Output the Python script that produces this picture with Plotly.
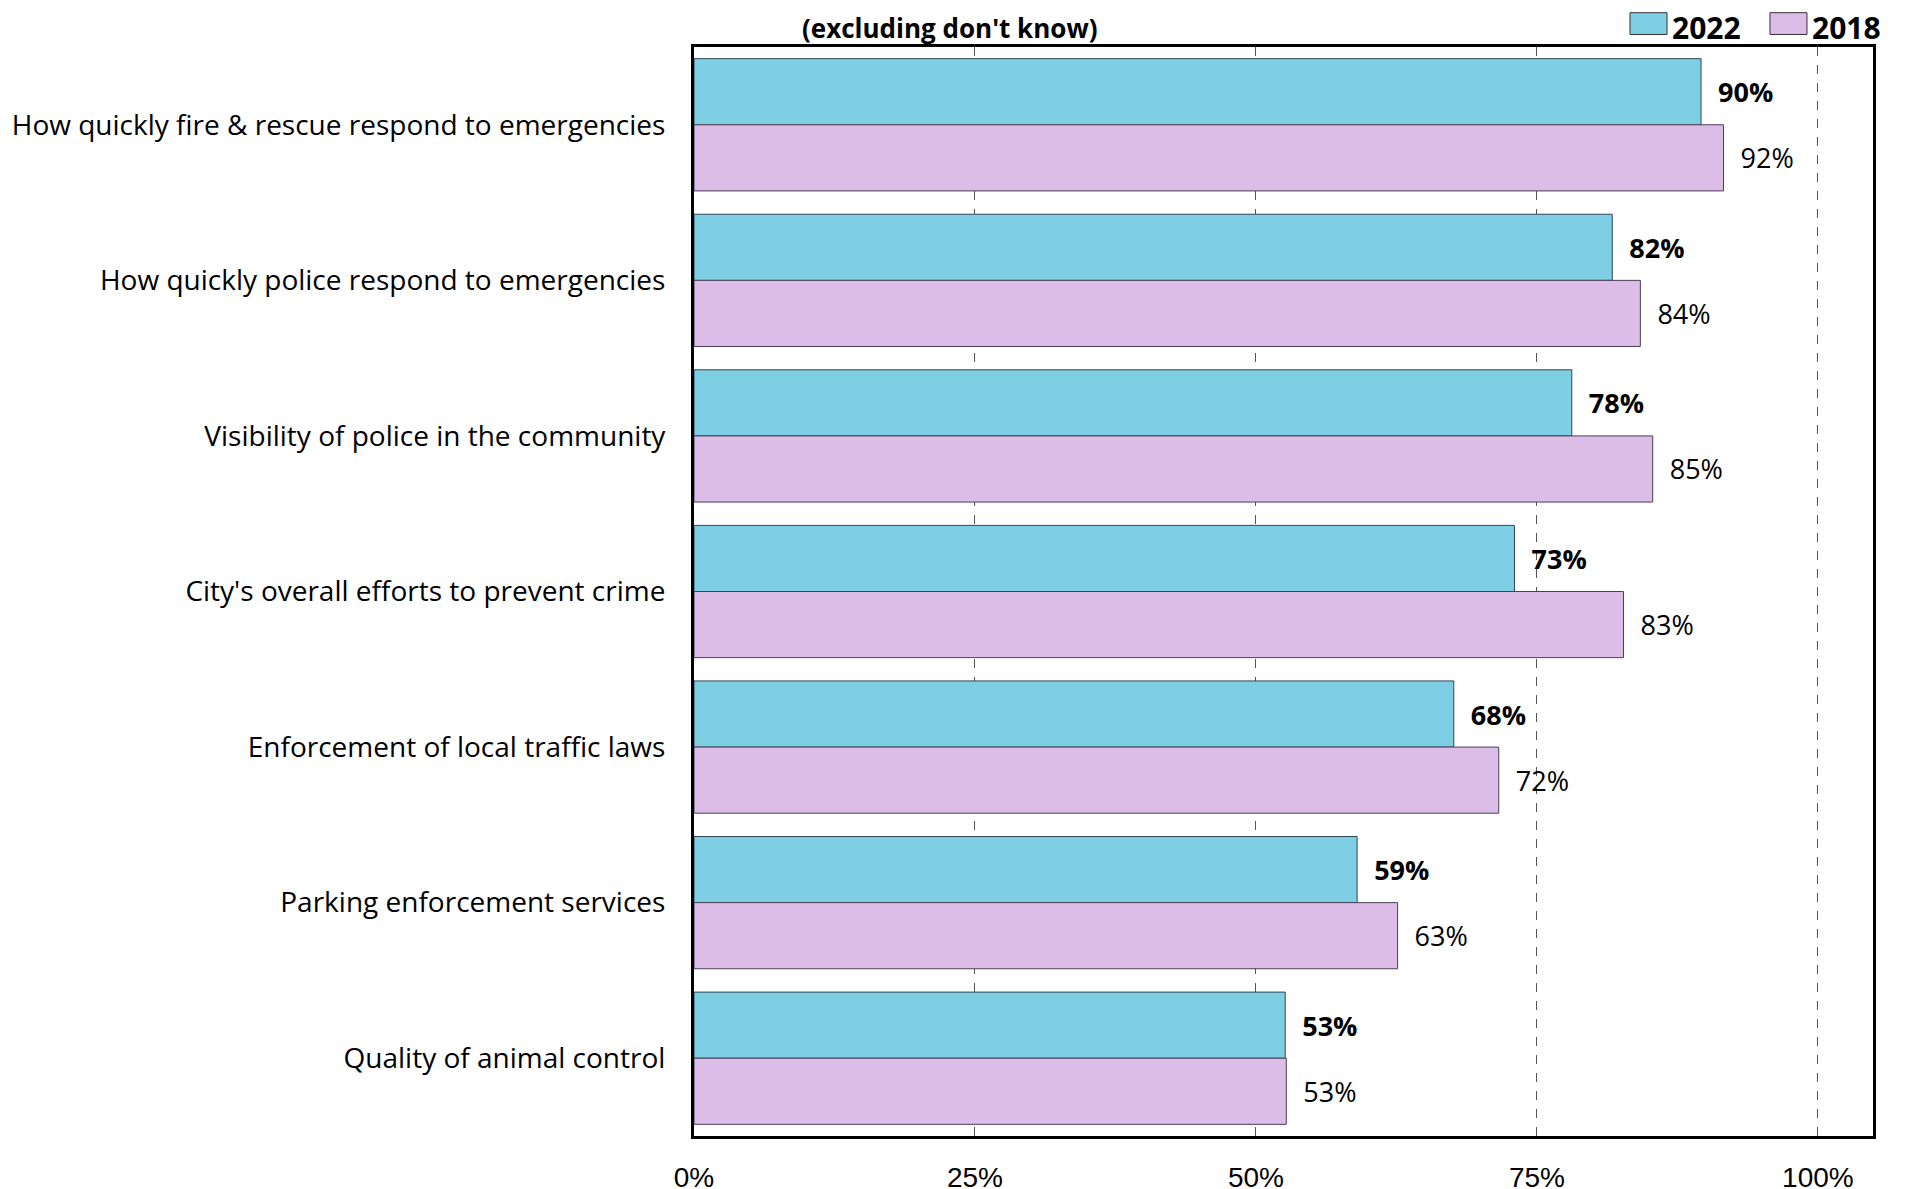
import plotly.graph_objects as go

categories = [
    "How quickly fire & rescue respond to emergencies",
    "How quickly police respond to emergencies",
    "Visibility of police in the community",
    "City's overall efforts to prevent crime",
    "Enforcement of local traffic laws",
    "Parking enforcement services",
    "Quality of animal control",
]
values_2022 = [89.6, 81.7, 78.1, 73.0, 67.6, 59.0, 52.6]
values_2018 = [91.6, 84.2, 85.3, 82.7, 71.6, 62.6, 52.7]
series_names = ["2022", "2018"]
series_colors = ["#7ECFE3", "#DBBDE8"]
tick_vals = [0, 25, 50, 75, 100]
tick_text = ["0%", "25%", "50%", "75%", "100%"]

label_font = "Open Sans, Noto Sans, sans-serif"

fig = go.Figure()

fig.add_trace(go.Bar(
    name=series_names[0], y=categories, x=values_2022, orientation="h",
    marker=dict(color=series_colors[0], line=dict(color="#2E4656", width=1)),
    texttemplate="\u00a0\u00a0<b>%{x:.0f}%</b>", textposition="outside",
    textfont=dict(family=label_font, size=27, color="black"),
    cliponaxis=False, showlegend=False,
))
fig.add_trace(go.Bar(
    name=series_names[1], y=categories, x=values_2018, orientation="h",
    marker=dict(color=series_colors[1], line=dict(color="#4A3F55", width=1)),
    texttemplate="\u00a0\u00a0%{x:.0f}%", textposition="outside",
    textfont=dict(family=label_font, size=27, color="black"),
    cliponaxis=False, showlegend=False,
))

fig.update_xaxes(
    range=[0, 104.9], tickvals=tick_vals, ticktext=tick_text,
    showgrid=True, gridcolor="#555555", gridwidth=1, griddash="dash",
    showline=True, linecolor="black", linewidth=3, mirror="allticks",
    ticks="inside", ticklen=8, tickcolor="#555555", tickwidth=1,
    ticklabelstandoff=14,
    tickfont=dict(family="Liberation Sans Narrow, Liberation Sans, sans-serif", size=28, color="black"),
    zeroline=False, automargin=False,
)
fig.update_yaxes(
    autorange="reversed", showline=True, linecolor="black", linewidth=3,
    mirror=True, ticks="", ticklabelstandoff=20,
    tickfont=dict(family=label_font, size=28, color="black"),
    automargin=False,
)

fig.add_annotation(
    text="<b>(excluding don't know)</b>", xref="paper", yref="paper",
    x=0.2163, y=1.036, xanchor="center", yanchor="top", showarrow=False,
    font=dict(family=label_font, size=26, color="black"),
)

# hand-made legend: large swatches like the original
legend_box_x = [(0.7939, 0.8253), (0.9126, 0.9440)]
legend_text_x = [0.8278, 0.9466]
for name, color, (bx0, bx1), tx in zip(series_names, series_colors, legend_box_x, legend_text_x):
    fig.add_shape(type="rect", xref="paper", yref="paper",
                  x0=bx0, x1=bx1, y0=1.0115, y1=1.0315,
                  fillcolor=color, line=dict(color="#333333", width=1))
    fig.add_annotation(text="<b>" + name + "</b>", xref="paper", yref="paper",
                       x=tx, y=1.0175, xanchor="left", yanchor="middle",
                       showarrow=False,
                       font=dict(family=label_font, size=30, color="black"))

fig.update_layout(
    width=1908, height=1189,
    barmode="group", bargap=0.15, bargroupgap=0,
    plot_bgcolor="white", paper_bgcolor="white",
    margin=dict(l=686, r=43, t=39, b=61, autoexpand=False),
    showlegend=False,
)

fig.write_html("out.html")
